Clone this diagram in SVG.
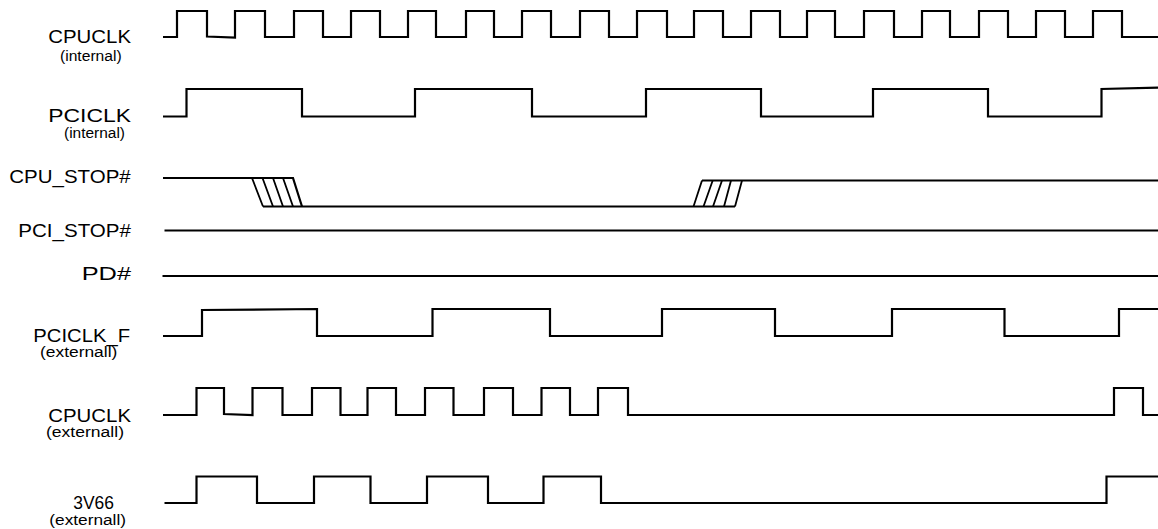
<svg xmlns="http://www.w3.org/2000/svg" width="1158" height="529" viewBox="0 0 1158 529">
<style>
.w{fill:none;stroke:#000;stroke-width:2.2;stroke-linejoin:miter;stroke-linecap:butt}
.h{fill:none;stroke:#000;stroke-width:1.8}
.l{font-family:"Liberation Sans",Arial,sans-serif;font-size:18px;fill:#000}
.s{font-family:"Liberation Sans",Arial,sans-serif;font-size:14px;fill:#000}
</style>
<rect width="1158" height="529" fill="#fff"/>
<g id="cpuclk-int">
<text class="l" x="48.3" y="42.7" textLength="82.7" lengthAdjust="spacingAndGlyphs">CPUCLK</text>
<text class="s" x="60" y="60.5" textLength="61.7" lengthAdjust="spacingAndGlyphs">(internal)</text>
<path class="w" d="M163,37 H177 V11 H207 V36.5 L235,37.5 V11 H265 V37 H294 V11 H323 V37 H351 V11 H380 V37 H408 V11 H436 V37 H466 V11 H494 V37 H522 V11 H551 V37 H580 V11 H609 V37 H637 V11 H667 V37 H694 V11 H723 V37 H751 V11 H780 V37 H807 V11 H835 V37 H864 V11 H894 V37 H922 V11 H950 V37 H979 V11 H1008 V37 H1036 V11 H1065 V37 H1093 V11 H1122 V37 H1158"/>
</g>
<g id="pciclk-int">
<text class="l" x="48.3" y="121.7" textLength="82.7" lengthAdjust="spacingAndGlyphs">PCICLK</text>
<text class="s" x="64" y="137.5" textLength="61" lengthAdjust="spacingAndGlyphs">(internal)</text>
<path class="w" d="M163,116.5 H186.5 V89 H302 V116.5 H415 V89 H532 V116.5 H646 V89 H761 V116.5 H873 V89 H988 V116.5 H1101.5 V89 L1158,87.7"/>
</g>
<g id="cpu-stop">
<text class="l" x="9.3" y="182.7" textLength="121.4" lengthAdjust="spacingAndGlyphs">CPU_STOP#</text>
<path class="w" d="M163,178 H293 L302,206.5"/>
<path class="w" d="M263,206.5 H735"/>
<path class="h" d="M252,178 L263,206.5 M262.5,178 L273,206.5 M273,178 L283,206.5 M283,178 L293,206.5"/>
<path class="w" d="M702,180.5 H1158"/>
<path class="h" d="M693.5,206.5 L702,180.5 M703.5,206.5 L712.7,180.5 M713,206.5 L722,180.5 M724,206.5 L731,180.5 M735,206.5 L742,180.5"/>
</g>
<g id="pci-stop">
<text class="l" x="18.3" y="236.7" textLength="112.7" lengthAdjust="spacingAndGlyphs">PCI_STOP#</text>
<path class="w" d="M164.5,230.5 H1158"/>
</g>
<g id="pd">
<text class="l" x="81.7" y="280" textLength="49.3" lengthAdjust="spacingAndGlyphs">PD#</text>
<path class="w" d="M162.5,276 H1158"/>
</g>
<g id="pciclk-f">
<text class="l" x="33.3" y="341.7" textLength="96.7" lengthAdjust="spacingAndGlyphs">PCICLK_F</text>
<text class="s" x="40" y="357" textLength="77.3" lengthAdjust="spacingAndGlyphs">(externall)</text>
<path class="w" d="M163,336 H202 V310 L317,309 V336 H432.5 V309 H550 V336 H662 V309 H775 V336 H892 V309 H1004.5 V336 H1119 V309 H1158"/>
</g>
<g id="cpuclk-ext">
<text class="l" x="48.3" y="421.7" textLength="82.7" lengthAdjust="spacingAndGlyphs">CPUCLK</text>
<text class="s" x="46" y="437" textLength="78" lengthAdjust="spacingAndGlyphs">(externall)</text>
<path class="w" d="M163,415 H196.5 V388 H224 V414 L252.5,415 V388 H282.5 V415 H312 V388 H340.5 V415 H367.5 V388 H396 V415 H425 V388 H453.5 V415 H484 V388 H513 V415 H541.5 V388 H570 V415 H598 V388 H628 V415 H1114 V388 H1143 V415 H1158"/>
</g>
<g id="v66">
<text class="l" x="73.3" y="509" textLength="40.7" lengthAdjust="spacingAndGlyphs">3V66</text>
<text class="s" x="49.3" y="525" textLength="76.7" lengthAdjust="spacingAndGlyphs">(externall)</text>
<path class="w" d="M164.5,503 H196.5 V476.5 H257 V503 H314 V476.5 H370.5 V503 H427 V476.5 H488 V503 H543.5 V476.5 H601 V503 H1106.5 V476.5 H1158"/>
</g>
<g id="connectors"/>
</svg>
